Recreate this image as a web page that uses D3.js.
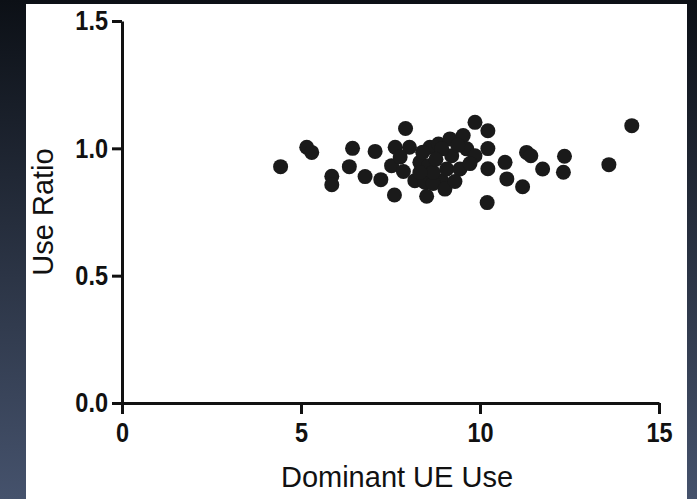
<!DOCTYPE html>
<html>
<head>
<meta charset="utf-8">
<script src="https://cdn.jsdelivr.net/npm/d3@7"></script>
<style>
  body { margin: 0; padding: 0; overflow: hidden; }
</style>
</head>
<body>
<div id="chart"></div>
<script>
// dominant UE use (x) vs use ratio (y)
var domUse = [4.43, 5.16, 5.30, 5.86, 5.86, 6.44, 6.35, 6.79, 7.07, 7.23,
              7.61, 7.92, 7.63, 8.03, 7.53, 7.86, 8.18, 8.32, 8.60, 8.56,
              8.46, 8.51, 8.84, 9.16, 9.53, 9.86, 8.93, 9.07, 9.21, 9.63,
              9.86, 9.44, 8.69, 8.69, 8.93, 10.22, 10.22, 10.22, 10.20, 10.70,
              10.75, 11.19, 11.30, 11.42, 11.75, 12.36, 12.33, 13.60, 14.24,
              8.77, 9.02, 9.30, 9.72, 7.77, 8.32, 9.38, 8.40];
var useRatio = [0.928, 1.004, 0.984, 0.890, 0.857, 1.000, 0.928, 0.889, 0.988, 0.877,
                0.817, 1.078, 1.004, 1.004, 0.932, 0.909, 0.873, 0.945, 1.004, 0.932,
                0.867, 0.812, 1.017, 1.037, 1.050, 1.102, 0.873, 0.919, 0.971, 0.998,
                0.971, 0.919, 0.862, 0.906, 0.998, 1.069, 0.999, 0.920, 0.787, 0.945,
                0.880, 0.849, 0.984, 0.971, 0.919, 0.969, 0.906, 0.936, 1.089,
                0.957, 0.840, 0.870, 0.940, 0.966, 0.905, 1.012, 0.985];
var xTicks = [0, 5, 10, 15];
var yTicks = [0, 0.5, 1.0, 1.5];

var W = 697, H = 499;
var margin = {top: 21, right: 38, bottom: 96, left: 122};
var width = W - margin.left - margin.right;
var height = H - margin.top - margin.bottom;
var squeeze = 0.84; // tick labels are a narrow bold face

var svg = d3.select("#chart").append("svg")
    .attr("width", W)
    .attr("height", H);

// dark slide background
var grad = svg.append("defs").append("linearGradient")
    .attr("id", "bg")
    .attr("x1", 0).attr("y1", 0).attr("x2", 0).attr("y2", 1);
grad.append("stop").attr("offset", "0%").attr("stop-color", "#0c1016");
grad.append("stop").attr("offset", "100%").attr("stop-color", "#45526c");

svg.append("rect")
    .attr("width", W).attr("height", H)
    .attr("fill", "url(#bg)");

// white panel
svg.append("rect")
    .attr("x", 26).attr("y", 4)
    .attr("width", 661).attr("height", 495)
    .attr("fill", "#ffffff");

var g = svg.append("g")
    .attr("transform", "translate(" + margin.left + "," + margin.top + ")");

var x = d3.scaleLinear().domain([0, 15]).range([0, width]);
var y = d3.scaleLinear().domain([0, 1.5]).range([height, 0]);

var data = domUse.map(function(d, i) { return {x: d, y: useRatio[i]}; });

g.selectAll(".dot")
    .data(data)
  .enter().append("circle")
    .attr("class", "dot")
    .attr("cx", function(d) { return x(d.x); })
    .attr("cy", function(d) { return y(d.y); })
    .attr("r", 7.5)
    .attr("fill", "#1a1a1a");

//axes
var xAxis = g.append("g")
    .attr("transform", "translate(0," + height + ")")
    .call(d3.axisBottom(x).tickValues(xTicks).tickSize(11).tickSizeOuter(0).tickPadding(8));

var yAxis = g.append("g")
    .call(d3.axisLeft(y).tickValues(yTicks).tickFormat(d3.format(".1f"))
      .tickSize(10).tickSizeOuter(0).tickPadding(4));

[xAxis, yAxis].forEach(function(a) {
  a.select(".domain").attr("stroke", "#111").attr("stroke-width", 3);
  a.selectAll(".tick line").attr("stroke", "#111").attr("stroke-width", 3);
  a.selectAll(".tick text")
    .attr("fill", "#111")
    .style("font-family", "'Liberation Sans', Arial, sans-serif")
    .style("font-weight", "bold")
    .style("font-size", "28px");
});
// narrow the labels, keeping their anchor points
yAxis.selectAll(".tick text")
    .attr("x", -14 / squeeze)
    .attr("transform", "scale(" + squeeze + ",1)");
xAxis.selectAll(".tick text")
    .attr("transform", "scale(" + squeeze + ",1)");

//titles
svg.append("text")
  .attr("x", 397)
  .attr("y", 487)
  .attr("text-anchor", "middle")
  .text("Dominant UE Use")
  .style("font-family", "'Liberation Sans', Arial, sans-serif")
  .style("font-size", "29px")
  .style("fill", "#111");

svg.append("text")
  .attr("transform", "translate(53,212) rotate(-90)")
  .attr("text-anchor", "middle")
  .text("Use Ratio")
  .style("font-family", "'Liberation Sans', Arial, sans-serif")
  .style("font-size", "29px")
  .style("fill", "#111");
</script>
</body>
</html>
